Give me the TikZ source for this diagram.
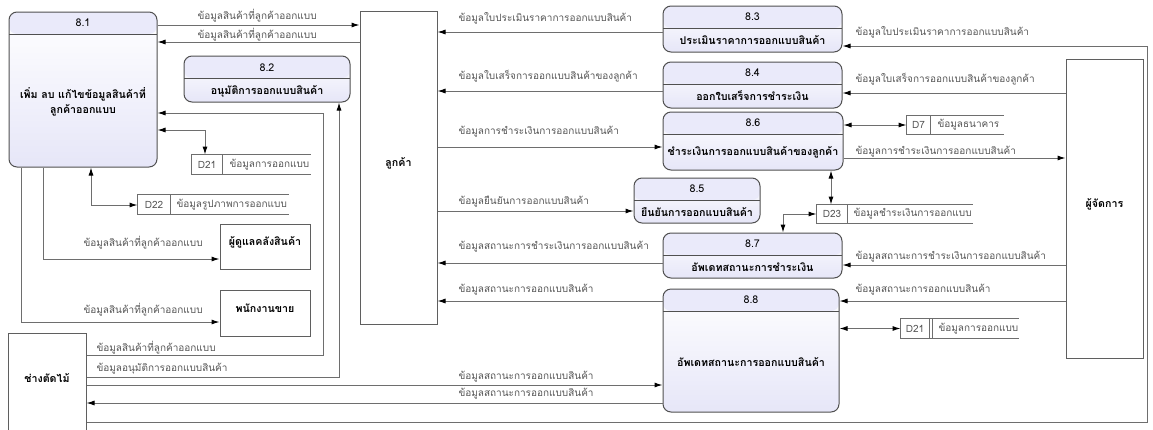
\documentclass[tikz,border=0pt]{standalone}
\usepackage{fontspec}
\setmainfont[Script=Thai]{Loma}
\usetikzlibrary{arrows.meta,fit,calc}

\definecolor{procline}{RGB}{80,80,80}
\definecolor{prochead}{RGB}{234,234,250}
\definecolor{procbot}{RGB}{230,230,248}
\definecolor{flowline}{RGB}{110,110,110}
\definecolor{lbltext}{RGB}{85,85,85}
\definecolor{extline}{RGB}{95,95,95}

\tikzset{every picture/.style={line width=0.75pt}}
\tikzset{
  proc/.style={draw=procline, rounded corners=6pt, inner sep=0pt,
    top color=white, bottom color=procbot,
    path picture={
      \coordinate (hw) at ($(path picture bounding box.north west)!16.5pt!(path picture bounding box.south west)$);
      \coordinate (he) at ($(path picture bounding box.north east)!16.5pt!(path picture bounding box.south east)$);
      \fill[prochead] (path picture bounding box.north west) rectangle (he);
      \draw[procline] (hw) -- (he);
    }},
  ext/.style={draw=extline, fill=white, inner sep=0pt, font=\fontsize{8}{10}\selectfont\bfseries},
  store/.style={inner sep=0pt},
  stline/.style={draw=flowline},
  flow/.style={draw=flowline, -{Latex[length=6pt,width=3.8pt,color=black]}},
  both/.style={draw=flowline, {Latex[length=6pt,width=3.8pt,color=black]}-{Latex[length=6pt,width=3.8pt,color=black]}},
  lbl/.style={text=lbltext, font=\fontsize{7.5}{9}\selectfont, anchor=west, inner sep=0pt},
  stxt/.style={text=lbltext, font=\fontsize{7.5}{9}\selectfont, inner sep=0pt},
  pid/.style={font=\fontsize{8}{9}\selectfont, inner sep=0pt},
  ptext/.style={font=\fontsize{8}{11}\selectfont\bfseries, align=center, inner sep=0pt},
}

\begin{document}
\begin{tikzpicture}[x=0.75pt,y=0.75pt,yscale=-1,xscale=1]
	\useasboundingbox (0,0) rectangle (1153,429);

	%Shape: Processes
	\node[proc, fit={(9,12) (157,167)}] (p81) {};
	\node[proc, fit={(184,56) (350,102)}] (p82) {};
	\node[proc, fit={(663,6) (842,52)}] (p83) {};
	\node[proc, fit={(663,62) (842,108)}] (p84) {};
	\node[proc, fit={(663,112) (843,170)}] (p86) {};
	\node[proc, fit={(634,178) (760,223)}] (p85) {};
	\node[proc, fit={(663,233) (842,278)}] (p87) {};
	\node[proc, fit={(663,289) (839,412)}] (p88) {};

	% Text Node
	\node[pid] (i81) at (83,22.5) {8.1};
	\node[ptext] (t81) at (83,101.5) {เพิ่ม ลบ แก้ไขข้อมูลสินค้าที่\\ลูกค้าออกแบบ};
	\node[pid] (i82) at (267,67.5) {8.2};
	\node[ptext] (t82) at (267,91) {อนุมัติการออกแบบสินค้า};
	\node[pid] (i83) at (752.5,17) {8.3};
	\node[ptext] (t83) at (752.5,40) {ประเมินราคาการออกแบบสินค้า};
	\node[pid] (i84) at (752.5,73) {8.4};
	\node[ptext] (t84) at (752.5,96) {ออกใบเสร็จการชำระเงิน};
	\node[pid] (i86) at (753,123) {8.6};
	\node[ptext] (t86) at (753,152) {ชำระเงินการออกแบบสินค้าของลูกค้า};
	\node[pid] (i85) at (697,189) {8.5};
	\node[ptext] (t85) at (697,212) {ยืนยันการออกแบบสินค้า};
	\node[pid] (i87) at (752.5,244) {8.7};
	\node[ptext] (t87) at (752.5,267) {อัพเดทสถานะการชำระเงิน};
	\node[pid] (i88) at (751,300) {8.8};
	\node[ptext] (t88) at (751,362) {อัพเดทสถานะการออกแบบสินค้า};

	%Shape: External entities
	\node[ext, fit={(360,11) (437,324)}] (cust) {ลูกค้า};
	\node[ext, fit={(1066,59) (1143,358)}] (mgr) {ผู้จัดการ};
	\node[ext, fit={(220,224) (310,269)}] (wh) {ผู้ดูแลคลังสินค้า};
	\node[ext, fit={(220,290) (310,336)}] (sales) {พนักงานขาย};
	\node[ext, fit={(8,333) (86,432)}] (carp) {ช่างตัดไม้};

	%Shape: Data stores
	\node[store, fit={(192,155) (310,174)}] (d21a) {};
	\node[store, fit={(138,195) (288,214)}] (d22) {};
	\node[store, fit={(907,116) (1003,134)}] (d7) {};
	\node[store, fit={(817,205) (972,223)}] (d23) {};
	\node[store, fit={(901,319) (1018,338)}] (d21b) {};
	\draw[stline] (d21a.north east) -- (d21a.north west) -- (d21a.south west) -- (d21a.south east) (d21a.north -| 222,0) -- (d21a.south -| 222,0);
	\draw[stline] (d22.north east) -- (d22.north west) -- (d22.south west) -- (d22.south east) (d22.north -| 170,0) -- (d22.south -| 170,0);
	\draw[stline] (d7.north east) -- (d7.north west) -- (d7.south west) -- (d7.south east) (d7.north -| 930,0) -- (d7.south -| 930,0);
	\draw[stline] (d23.north east) -- (d23.north west) -- (d23.south west) -- (d23.south east) (d23.north -| 847,0) -- (d23.south -| 847,0);
	\draw[stline] (d21b.north east) -- (d21b.north west) -- (d21b.south west) -- (d21b.south east) (d21b.north -| 929,0) -- (d21b.south -| 929,0) (d21b.north -| 932,0) -- (d21b.south -| 932,0);
	\node[stxt] (s21a) at (207,164.5) {D21};
	\node[stxt, anchor=west] (n21a) at (229,164.5) {ข้อมูลการออกแบบ};
	\node[stxt] (s22) at (154,204.5) {D22};
	\node[stxt, anchor=west] (n22) at (176,204.5) {ข้อมูลรูปภาพการออกแบบ};
	\node[stxt] (s7) at (918.5,125) {D7};
	\node[stxt, anchor=west] (n7) at (937,125) {ข้อมูลธนาคาร};
	\node[stxt] (s23) at (832,214) {D23};
	\node[stxt, anchor=west] (n23) at (853,214) {ข้อมูลชำระเงินการออกแบบ};
	\node[stxt] (s21b) at (915,328.5) {D21};
	\node[stxt, anchor=west] (n21b) at (938,328.5) {ข้อมูลการออกแบบ};

	%Straight Lines: bends
	\coordinate (k1) at (323,113);
	\coordinate (k2) at (323,355);
	\coordinate (k3) at (339,377);
	\coordinate (k4) at (1147,422);
	\coordinate (k5) at (1147,46);
	\coordinate (k6) at (205,130);
	\coordinate (k7) at (91,205);
	\coordinate (k8) at (43,259);
	\coordinate (k9) at (21,322);
	\coordinate (k10) at (783,214);
	\coordinate (k11) at (831,190);

	%Straight Lines: data flows
	\draw[flow] (p81.east |- 0,25) -- (cust.west |- 0,25);
	\draw[flow] (cust.west |- 0,42) -- (p81.east |- 0,42);
	\draw[flow] (carp.east |- k2) -- (k2) -- (k1) -- (p81.east |- k1);
	\draw[flow] (carp.east |- k3) -- (k3) -- (p82.south -| k3);
	\draw[flow] (carp.east |- 0,385) -- (p88.west |- 0,385);
	\draw[flow] (p88.west |- 0,403) -- (carp.east |- 0,403);
	\draw[flow] (carp.east |- k4) -- (k4) -- (k5) -- (p83.east |- k5);
	\draw[both] (p81.east |- k6) -- (k6) -- (d21a.north -| k6);
	\draw[both] (p81.south -| k7) -- (k7) -- (d22.west |- k7);
	\draw[flow] (p81.south -| k8) -- (k8) -- (wh.west |- k8);
	\draw[flow] (p81.south -| k9) -- (k9) -- (sales.west |- k9);
	\draw[flow] (p83.west |- 0,32) -- (cust.east |- 0,32);
	\draw[flow] (p84.west |- 0,91) -- (cust.east |- 0,91);
	\draw[flow] (mgr.west |- 0,93) -- (p84.east |- 0,93);
	\draw[flow] (cust.east |- 0,147) -- (p86.west |- 0,147);
	\draw[both] (p86.east |- d7.west) -- (d7.west);
	\draw[flow] (p86.east |- 0,158) -- (mgr.west |- 0,158);
	\draw[both] (p86.south -| k11) -- (d23.north -| k11);
	\draw[both] (d23.west) -- (k10) -- (p87.north -| k10);
	\draw[flow] (cust.east |- 0,211) -- (p85.west |- 0,211);
	\draw[flow] (p87.west |- 0,263) -- (cust.east |- 0,263);
	\draw[flow] (mgr.west |- 0,265) -- (p87.east |- 0,265);
	\draw[flow] (p88.west |- 0,301) -- (cust.east |- 0,301);
	\draw[flow] (mgr.west |- 0,301) -- (p88.east |- 0,301);
	\draw[both] (p88.east |- d21b.west) -- (d21b.west);

	% Text Node
	\node[lbl] (l1) at (197,16) {ข้อมูลสินค้าที่ลูกค้าออกแบบ};
	\node[lbl] (l2) at (197,35) {ข้อมูลสินค้าที่ลูกค้าออกแบบ};
	\node[lbl] (l3) at (96,348) {ข้อมูลสินค้าที่ลูกค้าออกแบบ};
	\node[lbl] (l4) at (96,369) {ข้อมูลอนุมัติการออกแบบสินค้า};
	\node[lbl] (l5) at (458,377) {ข้อมูลสถานะการออกแบบสินค้า};
	\node[lbl] (l6) at (458,394) {ข้อมูลสถานะการออกแบบสินค้า};
	\node[lbl] (l7) at (855,32) {ข้อมูลใบประเมินราคาการออกแบบสินค้า};
	\node[lbl] (l8) at (83,243) {ข้อมูลสินค้าที่ลูกค้าออกแบบ};
	\node[lbl] (l9) at (83,310) {ข้อมูลสินค้าที่ลูกค้าออกแบบ};
	\node[lbl] (l10) at (458,18) {ข้อมูลใบประเมินราคาการออกแบบสินค้า};
	\node[lbl] (l11) at (458,76) {ข้อมูลใบเสร็จการออกแบบสินค้าของลูกค้า};
	\node[lbl] (l12) at (855,79) {ข้อมูลใบเสร็จการออกแบบสินค้าของลูกค้า};
	\node[lbl] (l13) at (458,132) {ข้อมูลการชำระเงินการออกแบบสินค้า};
	\node[lbl] (l14) at (855,152) {ข้อมูลการชำระเงินการออกแบบสินค้า};
	\node[lbl] (l15) at (458,202) {ข้อมูลยืนยันการออกแบบสินค้า};
	\node[lbl] (l16) at (458,247) {ข้อมูลสถานะการชำระเงินการออกแบบสินค้า};
	\node[lbl] (l17) at (855,257) {ข้อมูลสถานะการชำระเงินการออกแบบสินค้า};
	\node[lbl] (l18) at (458,290) {ข้อมูลสถานะการออกแบบสินค้า};
	\node[lbl] (l19) at (855,290) {ข้อมูลสถานะการออกแบบสินค้า};

\end{tikzpicture}
\end{document}
